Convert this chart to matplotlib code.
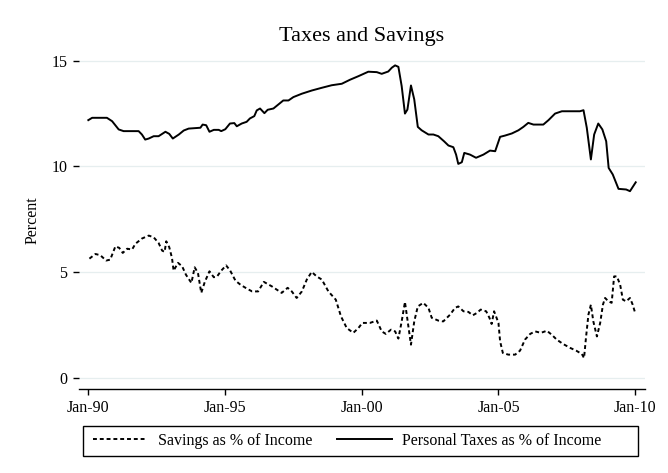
import matplotlib
matplotlib.use("Agg")
from matplotlib import pyplot as plt
from matplotlib.patches import Rectangle

plt.rcParams['font.family'] = ['Liberation Serif', 'DejaVu Serif']

# Personal taxes as % of income (decimal year, percent)
tax_t = [1990.00, 1990.14, 1990.68, 1990.87, 1991.11, 1991.29, 1991.84, 1991.96,
         1992.08, 1992.21, 1992.39, 1992.57, 1992.82, 1992.96, 1993.09, 1993.31,
         1993.49, 1993.67, 1994.10, 1994.18, 1994.31, 1994.43, 1994.59, 1994.77,
         1994.86, 1995.01, 1995.18, 1995.34, 1995.43, 1995.61, 1995.79, 1995.91,
         1996.07, 1996.16, 1996.28, 1996.44, 1996.56, 1996.77, 1996.95, 1997.13,
         1997.32, 1997.50, 1997.81, 1998.17, 1998.54, 1998.90, 1999.27, 1999.57,
         1999.88, 2000.24, 2000.55, 2000.73, 2000.97, 2001.10, 2001.22, 2001.34,
         2001.46, 2001.58, 2001.67, 2001.80, 2001.92, 2002.05, 2002.19, 2002.44,
         2002.62, 2002.80, 2003.01, 2003.17, 2003.35, 2003.45, 2003.53, 2003.66,
         2003.75, 2003.96, 2004.18, 2004.45, 2004.69, 2004.88, 2005.06, 2005.24,
         2005.49, 2005.73, 2005.91, 2006.09, 2006.28, 2006.64, 2006.83, 2007.07,
         2007.32, 2007.98, 2008.11, 2008.23, 2008.38, 2008.50, 2008.65, 2008.80,
         2008.94, 2009.03, 2009.18, 2009.39, 2009.67, 2009.81, 2010.02]
tax_v = [12.18, 12.29, 12.29, 12.13, 11.74, 11.66, 11.66, 11.50,
         11.26, 11.31, 11.42, 11.42, 11.63, 11.53, 11.31, 11.50,
         11.69, 11.78, 11.82, 11.97, 11.94, 11.63, 11.72, 11.72,
         11.66, 11.75, 12.02, 12.04, 11.89, 12.02, 12.10, 12.26,
         12.37, 12.64, 12.73, 12.51, 12.67, 12.73, 12.92, 13.11,
         13.11, 13.27, 13.43, 13.58, 13.71, 13.83, 13.90, 14.09,
         14.26, 14.47, 14.45, 14.37, 14.48, 14.66, 14.77, 14.70,
         13.79, 12.49, 12.68, 13.82, 13.16, 11.86, 11.70, 11.50,
         11.50, 11.42, 11.18, 10.98, 10.90, 10.55, 10.11, 10.19,
         10.63, 10.55, 10.40, 10.55, 10.74, 10.71, 11.39, 11.45,
         11.55, 11.70, 11.86, 12.05, 11.97, 11.97, 12.18, 12.49,
         12.60, 12.60, 12.65, 11.82, 10.32, 11.50, 12.02, 11.74,
         11.18, 9.92, 9.61, 8.93, 8.90, 8.82, 9.24]

# Savings as % of income
sav_t = [1990.04, 1990.26, 1990.44, 1990.65, 1990.80, 1990.99, 1991.13, 1991.26,
         1991.42, 1991.60, 1991.72, 1991.96, 1992.21, 1992.39, 1992.57, 1992.70,
         1992.79, 1992.85, 1992.96, 1993.06, 1993.12, 1993.28, 1993.43, 1993.57,
         1993.77, 1993.89, 1994.01, 1994.13, 1994.26, 1994.43, 1994.59, 1994.71,
         1994.86, 1995.04, 1995.19, 1995.38, 1995.56, 1995.80, 1995.99, 1996.21,
         1996.42, 1996.60, 1996.71, 1997.07, 1997.29, 1997.44, 1997.62, 1997.81,
         1997.99, 1998.17, 1998.35, 1998.54, 1998.78, 1999.05, 1999.24, 1999.45,
         1999.69, 1999.88, 2000.02, 2000.30, 2000.55, 2000.73, 2000.88, 2001.07,
         2001.22, 2001.34, 2001.46, 2001.58, 2001.68, 2001.80, 2001.92, 2002.05,
         2002.25, 2002.44, 2002.56, 2002.80, 2002.98, 2003.23, 2003.41, 2003.53,
         2003.72, 2003.90, 2004.06, 2004.21, 2004.35, 2004.55, 2004.67, 2004.75,
         2004.84, 2005.00, 2005.06, 2005.16, 2005.36, 2005.61, 2005.79, 2005.97,
         2006.16, 2006.34, 2006.55, 2006.77, 2006.95, 2007.13, 2007.37, 2007.62,
         2007.84, 2008.05, 2008.13, 2008.20, 2008.29, 2008.38, 2008.47, 2008.60,
         2008.72, 2008.82, 2008.90, 2009.02, 2009.14, 2009.23, 2009.33, 2009.45,
         2009.55, 2009.67, 2009.81, 2009.91, 2010.00]
sav_v = [5.63, 5.85, 5.79, 5.54, 5.58, 6.21, 6.14, 5.90,
         6.10, 6.06, 6.33, 6.58, 6.72, 6.64, 6.37, 6.01,
         5.95, 6.45, 6.17, 5.66, 5.06, 5.43, 5.27, 4.87,
         4.48, 5.22, 4.95, 4.01, 4.53, 5.03, 4.75, 4.79,
         5.06, 5.31, 5.06, 4.59, 4.40, 4.21, 4.08, 4.08,
         4.53, 4.40, 4.32, 4.01, 4.25, 4.08, 3.77, 4.08,
         4.64, 5.00, 4.79, 4.64, 4.08, 3.69, 2.90, 2.35,
         2.12, 2.35, 2.59, 2.59, 2.70, 2.19, 2.07, 2.27,
         2.19, 1.85, 2.66, 3.58, 2.66, 1.56, 2.66, 3.37,
         3.54, 3.30, 2.83, 2.70, 2.66, 2.98, 3.30, 3.37,
         3.14, 3.11, 2.95, 3.06, 3.22, 3.14, 2.83, 2.54,
         3.14, 2.59, 1.72, 1.17, 1.09, 1.09, 1.28, 1.80,
         2.07, 2.19, 2.12, 2.22, 2.03, 1.80, 1.59, 1.41,
         1.28, 1.12, 0.93, 1.88, 2.98, 3.45, 2.66, 1.95,
         2.59, 3.45, 3.77, 3.61, 3.54, 4.79, 4.79, 4.40,
         3.69, 3.61, 3.77, 3.45, 3.06]

xticks = [1990, 1995, 2000, 2005, 2010]
xticklabels = ['Jan-90', 'Jan-95', 'Jan-00', 'Jan-05', 'Jan-10']
yticks = [0, 5, 10, 15]

fig = plt.figure(figsize=(6.68, 4.73), dpi=100)
ax = fig.add_axes([0.1183, 0.1776, 0.8473, 0.7146])

ax.plot(sav_t, sav_v, color='black', lw=1.4, linestyle=(0, (2.0, 1.5)),
        label='Savings as % of Income')
ax.plot(tax_t, tax_v, color='black', lw=1.4, label='Personal Taxes as % of Income')

ax.set_xlim(1989.66, 2010.36)
ax.set_ylim(-0.535, 15.45)
ax.set_xticks(xticks)
ax.set_xticklabels(xticklabels)
ax.set_yticks(yticks)
ax.grid(axis='y', color='#e6eeef', lw=0.9)
ax.set_axisbelow(True)
for s in ['top', 'right', 'left']:
    ax.spines[s].set_visible(False)
ax.spines['bottom'].set_linewidth(1.0)
ax.tick_params(axis='both', direction='out', length=4.5, width=1.0, labelsize=11.5)
ax.tick_params(axis='y', pad=4)
ax.set_ylabel('Percent', fontsize=11.5, labelpad=8)
ax.set_title('Taxes and Savings', fontsize=16, pad=7)

# legend: entries without frame, box drawn around them
leg = fig.legend(loc='center left', bbox_to_anchor=(92.7 / 668, 1 - 440.9 / 473), ncol=2,
                 fontsize=11.5, handlelength=3.4, handletextpad=0.68, columnspacing=1.57,
                 borderpad=0, borderaxespad=0, frameon=False)
fig.patches.append(Rectangle((83 / 668, 1 - 456 / 473), 555 / 668, 30.3 / 473,
                             transform=fig.transFigure, fill=False,
                             edgecolor='black', lw=1.0))

fig.savefig('out.png', dpi=100)
